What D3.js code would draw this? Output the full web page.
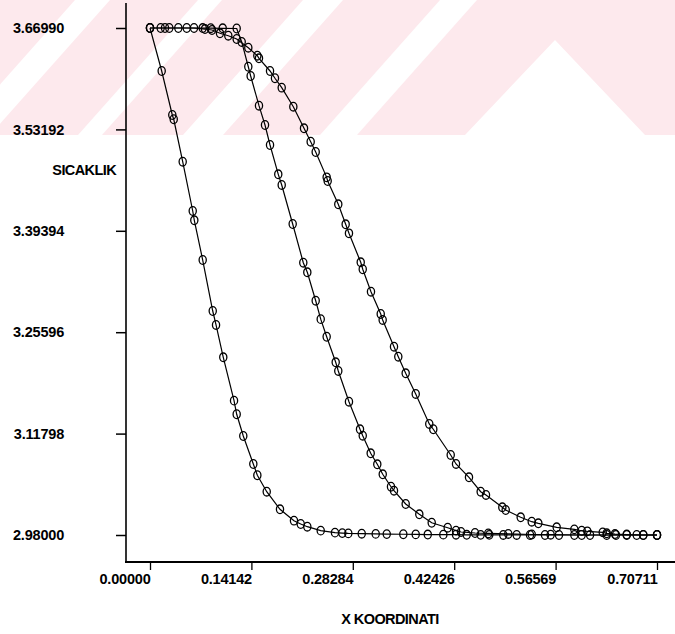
<!DOCTYPE html>
<html><head><meta charset="utf-8">
<script src="https://cdn.jsdelivr.net/npm/d3@7/dist/d3.min.js"></script>
<style>
html,body{margin:0;padding:0;background:#fff;}
svg text{font-family:"Liberation Sans",Arial,sans-serif;font-weight:bold;fill:#000;}
</style></head>
<body><svg id="c" width="675" height="634"></svg>
<script>
const xTicks = [0, 0.14142, 0.28284, 0.42426, 0.56569, 0.70711];
const yTicks = [2.98, 3.11798, 3.25596, 3.39394, 3.53192, 3.6699];
const xTickLabels = ["0.00000","0.14142","0.28284","0.42426","0.56569","0.70711"];
const yTickLabels = ["2.98000","3.11798","3.25596","3.39394","3.53192","3.66990"];
const xTitle = "X KOORDINATI";
const yTitle = "SICAKLIK";

const curve1X = [0,0.0163,0.0311,0.0331,0.0456,0.0596,0.0618,0.0735,0.0875,0.0921,0.1022,0.1172,0.1209,0.1301,0.1441,0.1497,0.1628,0.1813,0.2008,0.2102,0.2194,0.2381,0.2580,0.2682,0.2766,0.2953,0.3148,0.3302,0.3533,0.3706,0.3874,0.4091,0.4268,0.4417,0.4612,0.4732,0.4927,0.5114,0.5300,0.5509,0.5704,0.5918,0.6137,0.6370,0.6649,0.6880,0.70711];
const curve1Y = [3.6699,3.6114,3.5515,3.5457,3.4880,3.4209,3.4082,3.3542,3.2848,3.2658,3.2218,3.1628,3.1443,3.1147,3.0766,3.0613,3.0389,3.0150,2.9995,2.9950,2.9913,2.9859,2.9832,2.9826,2.9822,2.9818,2.9815,2.9812,2.9810,2.9808,2.9806,2.9805,2.9804,2.9803,2.9802,2.9802,2.9801,2.9801,2.9800,2.9800,2.9800,2.9800,2.9800,2.9800,2.9800,2.9800,2.9800];

const curve2X = [0,0.0149,0.0269,0.0512,0.0735,0.0847,0.1014,0.1209,0.1279,0.1371,0.1404,0.1520,0.1604,0.1674,0.1789,0.1837,0.1990,0.2138,0.2194,0.2311,0.2381,0.2464,0.2590,0.2626,0.2775,0.2929,0.2967,0.3078,0.3170,0.3246,0.3361,0.3403,0.3566,0.3756,0.3929,0.4152,0.4268,0.4338,0.4533,0.4718,0.4997,0.5324,0.5588,0.6021,0.6499,0.6788,0.70711];
const curve2Y = [3.6699,3.6699,3.6699,3.6699,3.6698,3.6696,3.6695,3.6692,3.6509,3.6172,3.6046,3.5642,3.5379,3.5107,3.4708,3.4563,3.4032,3.3505,3.3375,3.2988,3.2737,3.2498,3.2150,3.2032,3.1614,3.1238,3.1151,3.0912,3.0762,3.0626,3.0457,3.0403,3.0222,3.0082,2.9967,2.9899,2.9859,2.9841,2.9827,2.9821,2.9814,2.9807,2.9804,2.9800,2.9800,2.9800,2.9800];

const curve3X = [0,0.0209,0.0395,0.0614,0.0767,0.0865,0.0976,0.1092,0.1209,0.1371,0.1497,0.1520,0.1674,0.1743,0.1837,0.1999,0.2148,0.2241,0.2311,0.2464,0.2478,0.2626,0.2729,0.2775,0.2939,0.2967,0.3082,0.3218,0.3245,0.3403,0.3463,0.3566,0.3706,0.3895,0.3951,0.4194,0.4268,0.4449,0.4612,0.4686,0.4914,0.4961,0.5170,0.5324,0.5416,0.5672,0.5918,0.6021,0.6099,0.6314,0.6370,0.6485,0.6649,0.6880,0.70711];
const curve3Y = [3.6699,3.6699,3.6699,3.6699,3.6685,3.6672,3.6627,3.6594,3.6549,3.6431,3.6322,3.6287,3.6114,3.6015,3.5887,3.5628,3.5334,3.5152,3.5012,3.4667,3.4617,3.4300,3.4028,3.3905,3.3511,3.3416,3.3111,3.2807,3.2726,3.2362,3.2226,3.2000,3.1719,3.1311,3.1239,3.0889,3.0767,3.0585,3.0389,3.0345,3.0177,3.0140,3.0041,2.9981,2.9959,2.9905,2.9877,2.9858,2.9850,2.9836,2.9823,2.9813,2.9806,2.9800,2.9800];

const series = [[curve1X,curve1Y],[curve2X,curve2Y],[curve3X,curve3Y]]
  .map(([xs,ys]) => xs.map((v,i)=>({x:v,y:ys[i]})));

const svg = d3.select("#c");

// background watermark band
const wm = svg.append("g");
wm.append("rect").attr("x",0).attr("y",0).attr("width",675).attr("height",135).attr("fill","#fde9ed");
const stripes = [
  [[-45,135],[-10,135],[110,0],[75,0]],
  [[78,135],[102,135],[222,0],[198,0]],
  [[183,135],[223,135],[343,0],[303,0]],
  [[320,135],[357,135],[477,0],[440,0]],
  [[465,135],[555,40],[645,135]]
];
wm.selectAll("polygon").data(stripes).join("polygon")
  .attr("points",d=>d.map(p=>p.join(",")).join(" ")).attr("fill","#fff");

const x = d3.scaleLinear().domain([0,0.70711]).range([150,657]);
const y = d3.scaleLinear().domain([2.98,3.6699]).range([535,28]);

const axisX0 = 126, axisY0 = 562;
const fs = 14.5;

// Y axis
const yAxis = d3.axisLeft(y).tickValues(yTicks).tickSize(10).tickPadding(52)
  .tickFormat((d,i)=>yTickLabels[i]);
const gy = svg.append("g").attr("transform",`translate(${axisX0},0)`).call(yAxis);
gy.select(".domain").remove();
gy.selectAll(".tick line").attr("stroke","#000").attr("stroke-width",1.5);
gy.selectAll(".tick text").attr("font-size",fs).attr("letter-spacing",-0.2)
  .attr("font-family","Liberation Sans, Arial, sans-serif").attr("font-weight","bold").attr("fill","#000");
svg.append("line").attr("x1",axisX0).attr("x2",axisX0).attr("y1",3).attr("y2",axisY0)
  .attr("stroke","#000").attr("stroke-width",1.6);

// X axis
const xAxis = d3.axisBottom(x).tickValues(xTicks).tickSize(8).tickPadding(4)
  .tickFormat((d,i)=>xTickLabels[i]);
const gx = svg.append("g").attr("transform",`translate(0,${axisY0})`).call(xAxis);
gx.select(".domain").remove();
gx.selectAll(".tick line").attr("stroke","#000").attr("stroke-width",1.3);
gx.selectAll(".tick text").attr("font-size",fs).attr("letter-spacing",-0.2)
  .attr("text-anchor","end").attr("font-family","Liberation Sans, Arial, sans-serif")
  .attr("font-weight","bold").attr("fill","#000");
svg.append("line").attr("x1",axisX0-1).attr("x2",675).attr("y1",axisY0).attr("y2",axisY0)
  .attr("stroke","#000").attr("stroke-width",2);

// titles
svg.append("text").attr("x",116).attr("y",175).attr("text-anchor","end")
  .attr("font-size",fs).attr("letter-spacing",-0.6).text(yTitle);
svg.append("text").attr("x",390).attr("y",624).attr("text-anchor","middle")
  .attr("font-size",fs).attr("letter-spacing",-0.6).text(xTitle);

// curves
const line = d3.line().x(d=>x(d.x)).y(d=>y(d.y));
const g = svg.append("g");
series.forEach(s=>{
  g.append("path").datum(s).attr("d",line).attr("fill","none")
    .attr("stroke","#000").attr("stroke-width",1.2);
  g.selectAll(null).data(s).join("ellipse")
    .attr("cx",d=>x(d.x)).attr("cy",d=>y(d.y)).attr("rx",3.6).attr("ry",4.3)
    .attr("fill","none").attr("stroke","#000").attr("stroke-width",1.3);
});
</script></body></html>
